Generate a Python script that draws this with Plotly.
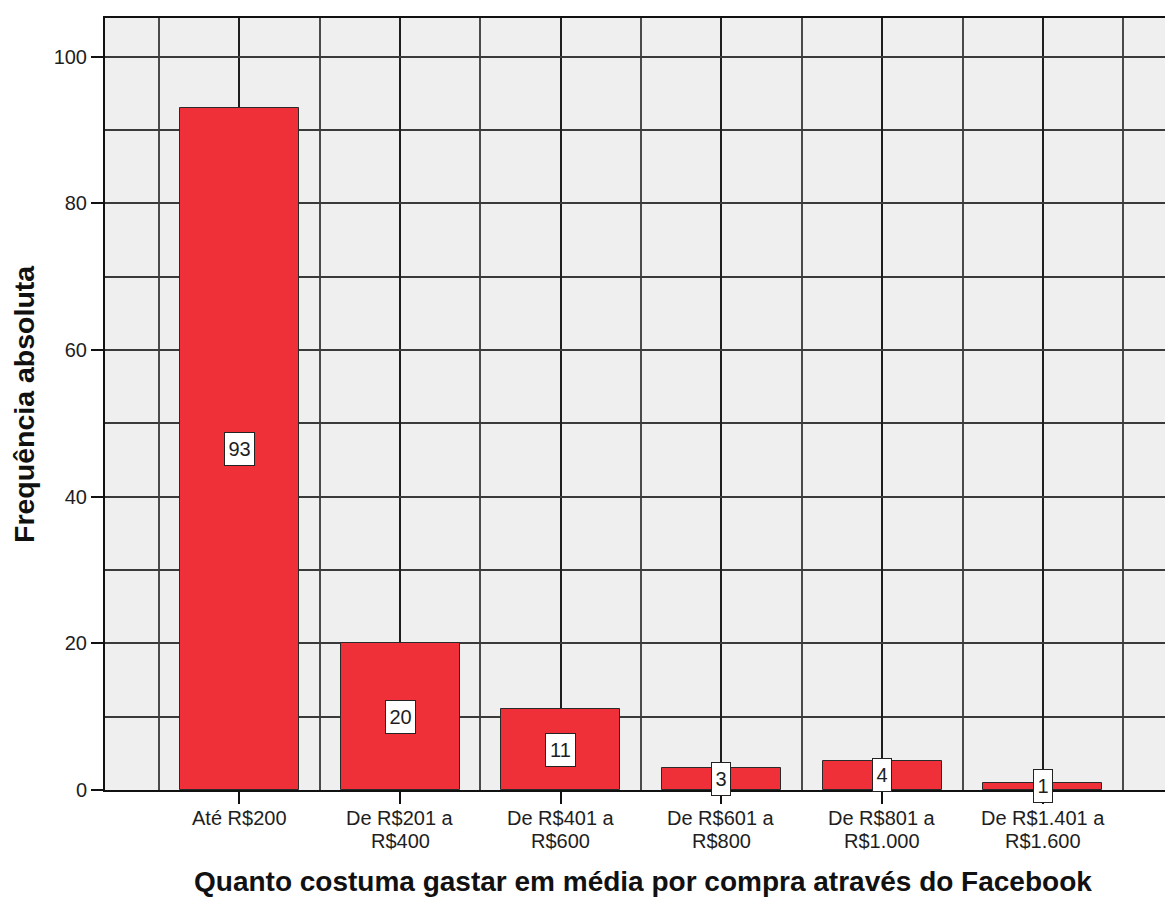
import plotly.graph_objects as go

# Spending brackets (tick labels, "\n" separates the two printed lines)
categories = [
    "Até R$200",
    "De R$201 a\nR$400",
    "De R$401 a\nR$600",
    "De R$601 a\nR$800",
    "De R$801 a\nR$1.000",
    "De R$1.401 a\nR$1.600",
]
frequencies = [93, 20, 11, 3, 4, 1]
y_tick_values = [0, 20, 40, 60, 80, 100]

x_title = "Quanto costuma gastar em média por compra através do Facebook"
y_title = "Frequência absoluta"

FONT = "Arial, Liberation Sans, sans-serif"
TEXT = "#1e1e1e"
BAR = "#EF3039"
W, H = 1165, 898
ML, MR, MT, MB = 105, 0, 18, 108

positions = list(range(len(categories)))

fig = go.Figure()
fig.add_trace(go.Bar(
    x=positions,
    y=frequencies,
    width=0.74,
    marker=dict(color=BAR, line=dict(color="#2a2a2a", width=1)),
    hoverinfo="skip",
))

annotations = []
# value boxes centred on each bar
for p, v in zip(positions, frequencies):
    label = str(v)
    annotations.append(dict(
        x=p, y=v / 2, xref="x", yref="y", text=label, showarrow=False,
        font=dict(family=FONT, size=20, color=TEXT),
        bgcolor="white", bordercolor="#222", borderwidth=1, borderpad=3,
        width=11 * len(label) + 1, height=26,
        xanchor="center", yanchor="middle",
    ))

# category labels under the axis, one annotation per printed line
for p, label in zip(positions, categories):
    for k, line in enumerate(label.split("\n")):
        annotations.append(dict(
            x=p, y=0, xref="x", yref="y", text=line, showarrow=False,
            font=dict(family=FONT, size=20, color=TEXT),
            xanchor="center", yanchor="middle", yshift=-27.5 - 23 * k,
        ))

# axis titles
annotations.append(dict(
    x=(643 - ML) / (W - ML - MR), y=0, xref="paper", yref="paper",
    yshift=-91, text=f"<b>{x_title}</b>", showarrow=False,
    font=dict(family=FONT, size=28, color="#111"),
    xanchor="center", yanchor="middle",
))
annotations.append(dict(
    x=0, y=0.5, xref="paper", yref="paper", xshift=24 - ML,
    text=f"<b>{y_title}</b>", showarrow=False, textangle=-90,
    font=dict(family=FONT, size=28.5, color="#111"),
    xanchor="center", yanchor="middle",
))

fig.update_layout(
    width=W, height=H,
    margin=dict(l=ML, r=MR, t=MT, b=MB, pad=0),
    paper_bgcolor="white",
    plot_bgcolor="#EFEFEF",
    showlegend=False,
    bargap=0,
    annotations=annotations,
    xaxis=dict(
        type="linear",
        range=[-0.836, 5.76],
        tickmode="array", tickvals=positions, showticklabels=False,
        ticks="outside", ticklen=12, tickwidth=1.5, tickcolor="#111",
        showgrid=True, gridcolor="#1e1e1e", gridwidth=1.5,
        minor=dict(
            tickmode="array",
            tickvals=[p - 0.5 for p in positions] + [positions[-1] + 0.5],
            showgrid=True, gridcolor="#4a4a4a", gridwidth=2, ticks="",
        ),
        showline=True, linecolor="#111", linewidth=2, mirror=True,
        zeroline=False, fixedrange=True,
    ),
    yaxis=dict(
        range=[0, 105.3],
        tickmode="array", tickvals=y_tick_values,
        ticktext=[str(t) for t in y_tick_values],
        ticks="outside", ticklen=12, tickwidth=1.5, tickcolor="#111",
        tickfont=dict(family=FONT, size=20, color=TEXT),
        showgrid=True, gridcolor="#3a3a3a", gridwidth=1.5,
        minor=dict(dtick=10, tick0=0, showgrid=True, gridcolor="#3a3a3a",
                   gridwidth=1.5, ticks=""),
        showline=True, linecolor="#111", linewidth=2,
        zeroline=False, fixedrange=True,
    ),
)

fig.write_html("out.html", config={"displayModeBar": False})
